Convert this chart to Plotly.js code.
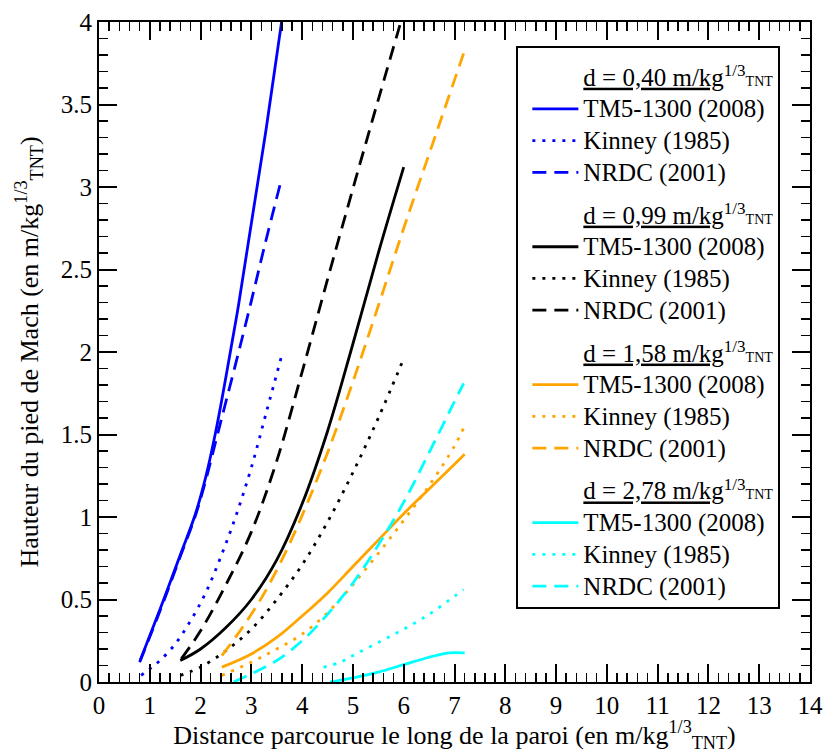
<!DOCTYPE html>
<html>
<head>
<meta charset="utf-8">
<script src="https://cdn.plot.ly/plotly-3.0.1.min.js"></script>
<style>
  html, body { margin: 0; padding: 0; background: #fff; }
  #chart { width: 823px; height: 753px; }
</style>
</head>
<body>
<div id="chart"></div>
<script>
// ---- data (x: distance, y: hauteur) ----
// d = 0,40 m/kg^1/3
const tm5_040_x = [0.81, 1.2, 1.6, 1.9, 2.1, 2.3, 2.5, 2.75, 3.0, 3.3, 3.6];
const tm5_040_y = [0.13, 0.44, 0.77, 1.02, 1.24, 1.52, 1.85, 2.29, 2.78, 3.37, 4.01];
const kin_040_x = [0.83, 1.0, 1.2, 1.5, 1.8, 2.1, 2.4, 2.7, 3.0, 3.3, 3.59];
const kin_040_y = [0.04, 0.08, 0.13, 0.23, 0.37, 0.54, 0.76, 1.01, 1.30, 1.64, 1.97];
const nrdc_040_x = [0.8, 1.2, 1.6, 1.9, 2.1, 2.3, 2.5, 2.75, 3.0, 3.25, 3.57];
const nrdc_040_y = [0.12, 0.43, 0.76, 1.01, 1.22, 1.46, 1.70, 2.00, 2.31, 2.63, 3.02];
// d = 0,99 m/kg^1/3
const tm5_099_x = [1.6, 2.0, 2.5, 3.0, 3.5, 4.0, 4.5, 5.0, 5.5, 6.0];
const tm5_099_y = [0.13, 0.20, 0.33, 0.50, 0.74, 1.08, 1.52, 2.05, 2.60, 3.12];
const kin_099_x = [1.6, 2.0, 2.5, 3.0, 3.5, 4.0, 4.5, 5.0, 5.5, 6.0];
const kin_099_y = [0.04, 0.09, 0.19, 0.32, 0.50, 0.71, 0.97, 1.27, 1.60, 1.96];
const nrdc_099_x = [1.62, 2.0, 2.5, 3.0, 3.5, 4.0, 4.5, 5.0, 5.5, 6.0];
const nrdc_099_y = [0.14, 0.31, 0.59, 0.91, 1.34, 1.88, 2.44, 2.99, 3.53, 4.06];
// d = 1,58 m/kg^1/3
const tm5_158_x = [2.42, 3.0, 3.5, 4.0, 4.5, 5.0, 5.5, 6.0, 6.5, 7.0, 7.2];
const tm5_158_y = [0.09, 0.17, 0.27, 0.40, 0.54, 0.70, 0.86, 1.02, 1.17, 1.32, 1.38];
const kin_158_x = [2.42, 3.0, 3.5, 4.0, 4.5, 5.0, 5.5, 6.0, 6.5, 7.0, 7.18];
const kin_158_y = [0.04, 0.12, 0.20, 0.29, 0.42, 0.59, 0.78, 0.98, 1.19, 1.43, 1.54];
const nrdc_158_x = [2.42, 2.8, 3.2, 3.6, 4.0, 4.5, 5.0, 5.5, 6.0, 6.5, 7.18];
const nrdc_158_y = [0.16, 0.32, 0.51, 0.74, 1.01, 1.39, 1.82, 2.28, 2.75, 3.20, 3.81];
// d = 2,78 m/kg^1/3
const tm5_278_x = [4.55, 5.0, 5.5, 6.0, 6.5, 6.8, 7.0, 7.2];
const tm5_278_y = [0.0, 0.025, 0.06, 0.105, 0.15, 0.172, 0.178, 0.176];
const kin_278_x = [4.42, 4.75, 5.0, 5.5, 6.0, 6.5, 7.0, 7.18];
const kin_278_y = [0.09, 0.12, 0.16, 0.24, 0.32, 0.41, 0.52, 0.56];
const nrdc_278_x = [2.65, 3.0, 3.5, 4.0, 4.5, 5.0, 5.5, 6.0, 6.5, 7.0, 7.18];
const nrdc_278_y = [0.0, 0.05, 0.13, 0.25, 0.41, 0.60, 0.83, 1.09, 1.39, 1.70, 1.81];

const groupLabels = ["0,40", "0,99", "1,58", "2,78"];
const seriesNames = ["TM5-1300 (2008)", "Kinney (1985)", "NRDC (2001)"];
const xTickVals = [0,1,2,3,4,5,6,7,8,9,10,11,12,13,14];
const yTickVals = [0,0.5,1,1.5,2,2.5,3,3.5,4];

// ---- styles ----
const colors = ["#0000ff", "#000000", "#ffa500", "#00ffff"];
const dashes = ["solid", "3px,7px", "14px,8px"];
const LW = 2.8;
const LEG_TXT = 25;

const groups = [
  [[tm5_040_x, tm5_040_y], [kin_040_x, kin_040_y], [nrdc_040_x, nrdc_040_y]],
  [[tm5_099_x, tm5_099_y], [kin_099_x, kin_099_y], [nrdc_099_x, nrdc_099_y]],
  [[tm5_158_x, tm5_158_y], [kin_158_x, kin_158_y], [nrdc_158_x, nrdc_158_y]],
  [[tm5_278_x, tm5_278_y], [kin_278_x, kin_278_y], [nrdc_278_x, nrdc_278_y]]
];

const big = (t) => "<span style='font-size:" + LEG_TXT + "px'>" + t + "</span>";

const traces = [];
groups.forEach((g, gi) => {
  traces.push({
    x: [null], y: [null], type: "scatter", mode: "lines",
    legendgroup: "g" + gi,
    name: "<span style='font-size:" + LEG_TXT + "px;text-decoration:underline'>d = " + groupLabels[gi] + " m/kg</span>" +
          "<sup><span style='font-size:17px'>1/3</span></sup><span style='font-size:14px'>TNT</span>",
    line: { width: 2, color: "rgba(0,0,0,0)" },
    hoverinfo: "skip", showlegend: true
  });
  g.forEach((s, si) => {
    traces.push({
      x: s[0], y: s[1], type: "scatter", mode: "lines",
      legendgroup: "g" + gi,
      name: big(seriesNames[si]),
      line: { color: colors[gi], width: LW, dash: dashes[si], shape: "spline", smoothing: 1 },
      showlegend: true
    });
  });
});

const serif = "Liberation Serif";

const axisCommon = {
  showline: true, linecolor: "#000", linewidth: 2, mirror: "ticks",
  ticks: "inside", ticklen: 18, tickwidth: 2, tickcolor: "#000",
  showgrid: false, zeroline: false,
  tickfont: { family: serif, size: 25, color: "#000" }
};

const NB = "\u00A0";

const layout = {
  width: 823, height: 753,
  margin: { l: 99, r: 13, t: 22, b: 71 },
  paper_bgcolor: "#fff", plot_bgcolor: "#fff",
  font: { family: serif, color: "#000" },
  showlegend: true,
  xaxis: Object.assign({}, axisCommon, {
    range: [0, 14], tickvals: xTickVals,
    minor: { dtick: 0.2, ticklen: 9, tickwidth: 1.5, ticks: "inside", tickcolor: "#000" },
    title: { text: "Distance parcourue le long de la paroi (en m/kg<sup>1/3</sup><sub>TNT</sub>)", font: { family: serif, size: 26 }, standoff: 14 }
  }),
  yaxis: Object.assign({}, axisCommon, {
    range: [0, 4], tickvals: yTickVals,
    minor: { dtick: 0.1, ticklen: 9, tickwidth: 1.5, ticks: "inside", tickcolor: "#000" },
    title: { text: "Hauteur du pied de Mach (en m/kg<sup>1/3</sup><sub>TNT</sub>)" + NB + NB + NB, font: { family: serif, size: 26 }, standoff: 15 }
  }),
  legend: {
    x: 0.587, y: 0.963, xanchor: "left", yanchor: "top",
    bgcolor: "#fff", bordercolor: "#000", borderwidth: 2,
    font: { family: serif, size: 22.1, color: "#000" },
    title: { text: NB, font: { family: serif, size: 6 } },
    itemwidth: 46, indentation: 9, tracegroupgap: 11, traceorder: "grouped"
  }
};

Plotly.newPlot("chart", traces, layout, { staticPlot: true, displayModeBar: false });
</script>
</body>
</html>
